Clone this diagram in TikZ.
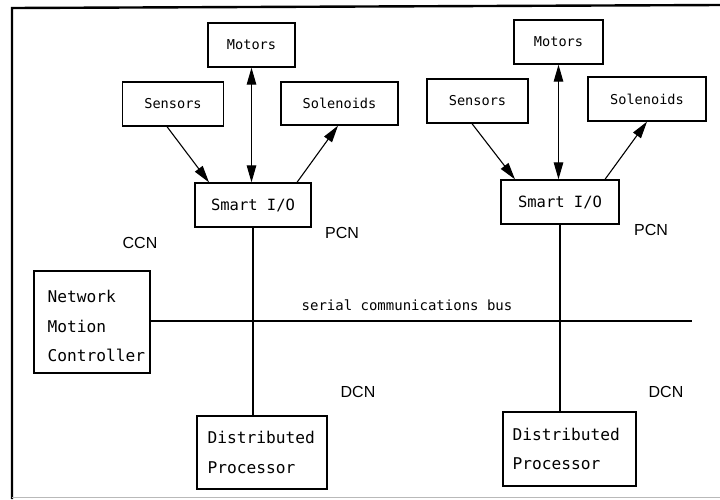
\documentclass[tikz,border=0pt]{standalone}
\usepackage{fontspec}
\newfontfamily\plotfont{DejaVu Sans Mono}
\newfontfamily\labfont{Liberation Sans}
\usetikzlibrary{arrows.meta}
\begin{document}
\begin{tikzpicture}[x=1pt,y=-1pt,
  box/.style={draw, line width=1.3pt, inner sep=0pt},
  small/.style={font=\plotfont\fontsize{13.6}{16}\selectfont},
  big/.style={font=\plotfont\fontsize{16.2}{29.3}\selectfont, align=left, inner sep=0pt},
  net/.style={font=\labfont\fontsize{16}{18}\selectfont},
  conn/.style={line width=1.1pt},
  tip/.style={-{Triangle[length=17pt,width=9.5pt]}},
  dtip/.style={{Triangle[length=17pt,width=9.5pt]}-{Triangle[length=17pt,width=9.5pt]}},
  frame/.style={line width=2.4pt}
]
\useasboundingbox (0,0) rectangle (720,499);
% frame
\draw[frame] (720,5) -- (12,8) -- (12,499);
\draw[gray!55, line width=1.2pt] (12,497.5) -- (720,497.5);

% left group
\node[box, small, minimum width=87pt, minimum height=44pt] (lmot) at (251.5,45) {Motors};
\node[box, small, minimum width=101pt, minimum height=44pt] (lsen) at (173,104) {Sensors};
\node[box, small, minimum width=117pt, minimum height=43pt] (lsol) at (339.5,103.5) {Solenoids};
\node[box, font=\plotfont\fontsize{15.5}{18}\selectfont, minimum width=116pt, minimum height=44pt] (lsio) at (253,205) {Smart I/O};
\node[box, minimum width=116pt, minimum height=102pt] (nmc) at (92,322) {};
\node[big, anchor=west] (nmctext) at ([xshift=14pt,yshift=-4pt]nmc.west) {Network\\Motion\\Controller};
\node[box, minimum width=130pt, minimum height=73pt] (ldp) at (262,452.5) {};
\node[big, anchor=west] (ldptext) at ([xshift=11pt]ldp.west) {Distributed\\Processor};

% right group
\node[box, small, minimum width=89pt, minimum height=44pt] (rmot) at (558.5,42) {Motors};
\node[box, small, minimum width=101pt, minimum height=44pt] (rsen) at (477.5,101) {Sensors};
\node[box, small, minimum width=118pt, minimum height=44pt] (rsol) at (647,99) {Solenoids};
\node[box, font=\plotfont\fontsize{15.5}{18}\selectfont, minimum width=118pt, minimum height=44pt] (rsio) at (560,202) {Smart I/O};
\node[box, minimum width=133pt, minimum height=74pt] (rdp) at (569.5,449) {};
\node[big, anchor=west] (rdptext) at ([xshift=10pt]rdp.west) {Distributed\\Processor};

% labels
\node[net] (ccn) at (140,243) {CCN};
\node[net] (lpcn) at (342,233) {PCN};
\node[net] (rpcn) at (651,230) {PCN};
\node[net] (ldcn) at (358,392) {DCN};
\node[net] (rdcn) at (666,392) {DCN};
\node[small, font=\plotfont\fontsize{14}{16}\selectfont] (buslbl) at (407,305) {serial communications bus};

% bus
\coordinate (busend) at (692,321);
\draw[conn] (nmc.east |- busend) -- (busend);

% verticals
\draw[conn] (lsio.south) -- (lsio.south |- ldp.north);
\draw[conn] (rsio.south) -- (rsio.south |- rdp.north);

% arrows left
\draw[conn, tip] ([xshift=-6pt]lsen.south) -- ([xshift=-44pt]lsio.north);
\draw[conn, dtip] (lmot.south) -- (lmot.south |- lsio.north);
\draw[conn, tip] ([xshift=44pt]lsio.north) -- ([xshift=-1.5pt]lsol.south);
% arrows right
\draw[conn, tip] ([xshift=-5.5pt]rsen.south) -- ([xshift=-45pt]rsio.north);
\draw[conn, dtip] (rmot.south) -- (rmot.south |- rsio.north);
\draw[conn, tip] ([xshift=45pt]rsio.north) -- (rsol.south);
\end{tikzpicture}
\end{document}
